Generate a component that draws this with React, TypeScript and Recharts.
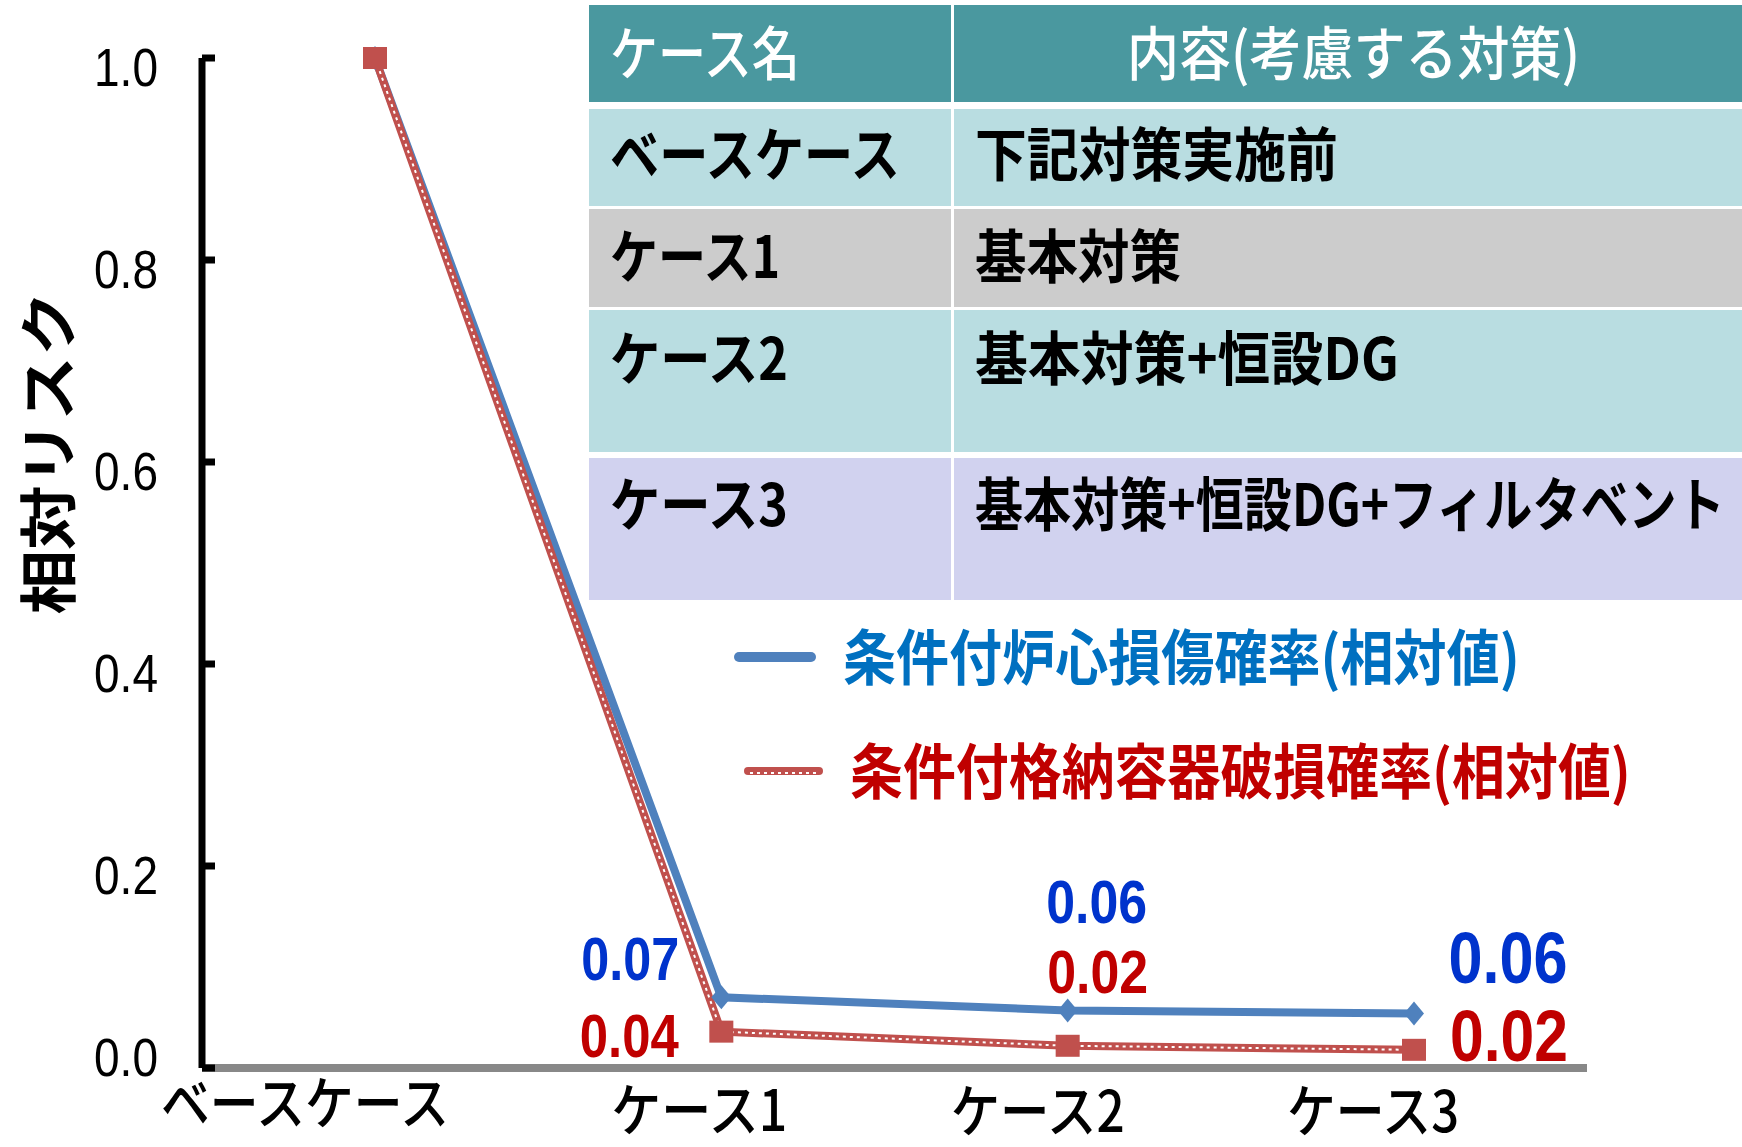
import React, { useLayoutEffect, useRef, useState } from 'react'
import { LineChart, Line, XAxis, YAxis, Legend, LabelList } from 'recharts'

document.body.style.margin = '0'

const categories = ['ベースケース', 'ケース1', 'ケース2', 'ケース3']
const coreDamage = [1.0, 0.07, 0.057, 0.054]
const containmentFailure = [1.0, 0.036, 0.022, 0.018]
const coreDamageLabels = ['', '0.07', '0.06', '0.06']
const containmentLabels = ['', '0.04', '0.02', '0.02']
const yTicks = [0, 0.2, 0.4, 0.6, 0.8, 1.0]
const seriesNames = ['条件付炉心損傷確率(相対値)', '条件付格納容器破損確率(相対値)']

const tableHeader = ['ケース名', '内容(考慮する対策)']
const tableCases = ['ベースケース', 'ケース1', 'ケース2', 'ケース3']
const tableMeasures = ['下記対策実施前', '基本対策', '基本対策+恒設DG', '基本対策+恒設DG+フィルタベント']

const data = categories.map((name, i) => ({
  name,
  cdp: coreDamage[i],
  cfp: containmentFailure[i],
  cdpLabel: coreDamageLabels[i],
  cfpLabel: containmentLabels[i],
}))

const JP = '"Noto Sans CJK JP", "Noto Sans", sans-serif'
const NUM = '"Liberation Sans Narrow", "Liberation Sans", Arial, sans-serif'
const BLUE = '#4F81BD'
const RED = '#C0504D'

// where each category label sits relative to its point (the slide had them nudged by hand)
const X_TICK_POS = [
  { dx: -70, y: 1124, w: 288 },
  { dx: -22, y: 1131, w: 176 },
  { dx: -30, y: 1132, w: 174 },
  { dx: -41, y: 1132, w: 172 },
]

const LABEL_POS: Record<string, any[]> = {
  cdp: [null, { dx: -91, dy: -17, w: 98, fs: 61 }, { dx: 29, dy: -87, w: 101, fs: 61 }, { dx: 94, dy: -30, w: 119, fs: 72 }],
  cfp: [null, { dx: -92, dy: 25, w: 99, fs: 61 }, { dx: 30, dy: -53, w: 101, fs: 61 }, { dx: 95, dy: 11, w: 118, fs: 72 }],
}

const TABLE_ROWS = [
  { y: 5, h: 97, fill: '#4A989F' },
  { y: 109, h: 97, fill: '#B9DDE1' },
  { y: 209, h: 98, fill: '#CCCCCC' },
  { y: 310, h: 142, fill: '#B9DDE1' },
  { y: 458, h: 142, fill: '#D1D2EF' },
]
const TABLE_BASELINES = [75, 176, 278, 380, 526]
const CASE_WIDTHS = [290, 170, 178, 178]
const MEASURE_WIDTHS = [363, 206, 424, 750]

// squeezes a text to a given width (the slide font is narrower than Noto)
function FitText({ x, y, width, rotate = 0, children, ...rest }: any) {
  const ref = useRef<SVGTextElement>(null)
  const [sx, setSx] = useState(1)
  useLayoutEffect(() => {
    const el = ref.current
    if (!el) return
    const natural = el.getComputedTextLength()
    if (natural > 0) setSx(width / natural)
  }, [width, children])
  return (
    <text ref={ref} transform={`translate(${x},${y}) rotate(${rotate}) scale(${sx},1)`} {...rest}>
      {children}
    </text>
  )
}

function XTick(props: any) {
  const { x, payload } = props
  const p = X_TICK_POS[payload.index] || { dx: 0, y: 1130, w: 170 }
  return (
    <text x={x + p.dx} y={p.y} textAnchor="middle" fontFamily={JP} fontSize={57} fontWeight={500}
      fill="#000" textLength={p.w} lengthAdjust="spacingAndGlyphs">
      {payload.value}
    </text>
  )
}

function YTick(props: any) {
  const { x, y, payload } = props
  // the 0.0 label sits a little higher than its tick in the original
  const lift = payload.value === 0 ? 20 : 0
  return (
    <g>
      <line x1={x} x2={x + 13} y1={y} y2={y} stroke="#000" strokeWidth={7} />
      <text x={x - 44} y={y + 28 - lift} textAnchor="end" fontFamily={NUM} fontSize={53} fill="#000"
        textLength={64} lengthAdjust="spacingAndGlyphs">
        {Number(payload.value).toFixed(1)}
      </text>
    </g>
  )
}

const Diamond = (props: any) => {
  const { cx, cy, index } = props
  return <path key={`d-${index}`} d={`M${cx},${cy - 12}L${cx + 10},${cy}L${cx},${cy + 12}L${cx - 10},${cy}Z`} fill={BLUE} />
}

const Square = (props: any) => {
  const { cx, cy, index } = props
  return <rect key={`s-${index}`} x={cx - 12} y={cy - 11} width={24} height={22} fill={RED} />
}

const valueLabel = (key: string, color: string) => (props: any) => {
  const { x, y, index, value } = props
  const p = LABEL_POS[key][index]
  if (!p || !value) return null
  return (
    <text x={x + p.dx} y={y + p.dy} textAnchor="middle" fontFamily={NUM} fontWeight={700}
      fontSize={p.fs} fill={color} textLength={p.w} lengthAdjust="spacingAndGlyphs">
      {value}
    </text>
  )
}

function LegendBox(props: any) {
  const items = (props.payload || []).filter((e: any) => seriesNames.includes(e.value))
  return (
    <svg width={1042} height={300} style={{ overflow: 'visible', display: 'block' }}>
      {items.map((e: any) => {
        const red = e.value === seriesNames[1]
        const cy = red ? 161 : 47
        return (
          <g key={e.value}>
            <line x1={red ? 48 : 39} x2={red ? 119 : 111} y1={cy} y2={cy}
              stroke={red ? RED : BLUE} strokeWidth={red ? 8 : 10} strokeLinecap="round" />
            {red && <line x1={50} x2={117} y1={cy + 2} y2={cy + 2} stroke="#fff" strokeWidth={2} strokeDasharray="3 4" />}
            <FitText x={red ? 150 : 143} y={cy + 23} width={red ? 781 : 677} fontFamily={JP} fontWeight={700}
              fontSize={60} fill={red ? '#C00000' : '#0070C0'}>
              {e.value}
            </FitText>
          </g>
        )
      })}
    </svg>
  )
}

function CaseTable() {
  return (
    <svg width={1742} height={1147} style={{ position: 'absolute', left: 0, top: 0, pointerEvents: 'none' }}>
      {TABLE_ROWS.map((r, i) => (
        <g key={i}>
          <rect x={589} y={r.y} width={362} height={r.h} fill={r.fill} />
          <rect x={954} y={r.y} width={788} height={r.h} fill={r.fill} />
        </g>
      ))}
      <FitText x={610} y={TABLE_BASELINES[0]} width={190} fontFamily={JP} fontSize={58} fontWeight={500} fill="#fff">
        {tableHeader[0]}
      </FitText>
      <FitText x={1127} y={TABLE_BASELINES[0]} width={453} fontFamily={JP} fontSize={58} fontWeight={500} fill="#fff">
        {tableHeader[1]}
      </FitText>
      {tableCases.map((c, i) => (
        <g key={c}>
          <FitText x={610} y={TABLE_BASELINES[i + 1]} width={CASE_WIDTHS[i]} fontFamily={JP} fontSize={58}
            fontWeight={700} fill="#000">{c}</FitText>
          <FitText x={975} y={TABLE_BASELINES[i + 1]} width={MEASURE_WIDTHS[i]} fontFamily={JP} fontSize={58}
            fontWeight={700} fill="#000">{tableMeasures[i]}</FitText>
        </g>
      ))}
      <FitText x={70} y={453} rotate={-90} width={323} textAnchor="middle" fontFamily={JP} fontWeight={700}
        fontSize={58} fill="#000">相対リスク</FitText>
    </svg>
  )
}

export default function App() {
  return (
    <div style={{ position: 'relative', width: 1742, height: 1147, background: '#fff', overflow: 'hidden' }}>
      <LineChart width={1742} height={1147} data={data} margin={{ top: 58, right: 155, bottom: 0, left: 0 }}>
        <XAxis dataKey="name" height={79} padding={{ left: 173, right: 173 }} interval={0}
          axisLine={{ stroke: '#888888', strokeWidth: 8 }} tickLine={false} tick={<XTick />} />
        <YAxis type="number" domain={[0, 1]} ticks={yTicks} width={202} tickSize={0} tickMargin={0}
          axisLine={{ stroke: '#000', strokeWidth: 7 }} tickLine={false} tick={<YTick />} />
        <Legend layout="vertical" align="center" verticalAlign="middle" content={<LegendBox />}
          wrapperStyle={{ left: 700, top: 610, width: 1042, height: 300 }} />
        <Line dataKey="cdp" name={seriesNames[0]} stroke={BLUE} strokeWidth={8} dot={Diamond}
          activeDot={false} isAnimationActive={false}>
          <LabelList dataKey="cdpLabel" content={valueLabel('cdp', '#0033CC')} />
        </Line>
        <Line dataKey="cfp" name={seriesNames[1]} stroke={RED} strokeWidth={8} dot={false}
          activeDot={false} isAnimationActive={false} />
        <Line dataKey="cfp" legendType="none" stroke="#fff" strokeWidth={2} strokeDasharray="3 4" dot={false}
          activeDot={false} isAnimationActive={false} />
        <Line dataKey="cfp" legendType="none" stroke="none" dot={Square}
          activeDot={false} isAnimationActive={false}>
          <LabelList dataKey="cfpLabel" content={valueLabel('cfp', '#C00000')} />
        </Line>
      </LineChart>
      <CaseTable />
    </div>
  )
}
